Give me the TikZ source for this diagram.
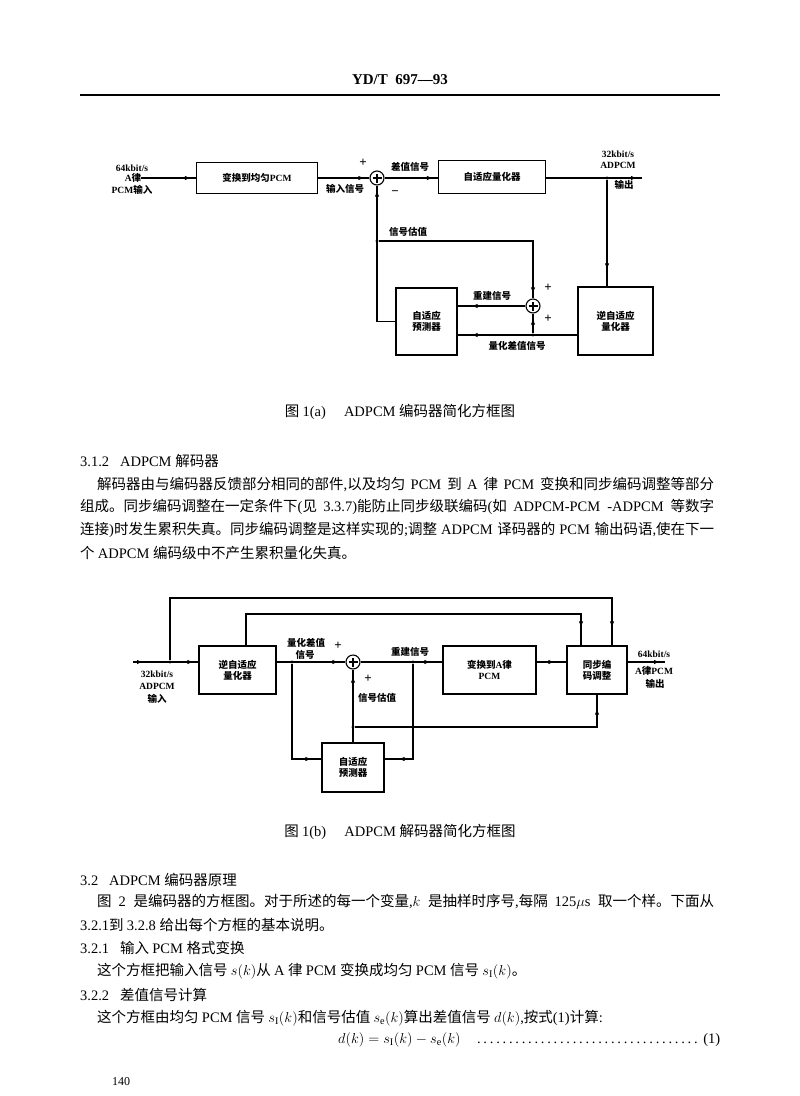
\documentclass[tikz,border=0pt]{standalone}
\usepackage{fontspec}
\setmainfont{Liberation Serif}
\newfontfamily\cjkfamily{Noto Sans CJK SC}
\usetikzlibrary{arrows.meta,decorations.markings}

% Chinese characters switch to the CJK font by themselves
\newXeTeXintercharclass\cjkclass
\newcount\cjkcnt
\def\setcjkrange#1#2{\cjkcnt=#1
  \loop\XeTeXcharclass\cjkcnt=\cjkclass
  \ifnum\cjkcnt<#2 \advance\cjkcnt by 1 \repeat}
\setcjkrange{"3000}{"303F}
\setcjkrange{"4E00}{"9FFF}
\setcjkrange{"FF00}{"FFEF}
\XeTeXinterchartoks 0 \cjkclass={\cjkfamily}
\XeTeXinterchartoks 4095 \cjkclass={\cjkfamily}
\XeTeXinterchartoks \cjkclass 0={\rmfamily}
\XeTeXinterchartoks 4095 0={\rmfamily}
\XeTeXlinebreaklocale "zh"
\XeTeXlinebreakskip=0pt plus 3pt

\newcommand\lblfont{\fontsize{9.5}{11}\selectfont\bfseries}
\newcommand\txtfont{\fontsize{14.5}{17}\selectfont}

\begin{document}
\XeTeXinterchartokenstate=1
\begin{tikzpicture}[x=1pt,y=-1pt,
	ln/.style={line width=1.1pt},
	fl/.style={ln,postaction={decorate,decoration={markings,
		mark=at position #1 with {\arrow{Latex[length=6pt,width=4.4pt]}}}}},
	fl/.default=-5pt,
	blk/.style={draw,line width=1.1pt,inner sep=0pt,align=center,font=\lblfont},
	sumc/.style={draw,line width=1.1pt,circle,inner sep=0pt,minimum size=14pt,
		path picture={\draw[line width=1.1pt] (path picture bounding box.center) +(-4.5pt,0pt) -- +(4.5pt,0pt)
			(path picture bounding box.center) +(0pt,-4.5pt) -- +(0pt,4.5pt);}},
	dot/.style={circle,fill,inner sep=0pt,minimum size=3.4pt},
	lbl/.style={font=\lblfont,inner sep=0pt},
	sgn/.style={font=\fontsize{13}{13}\selectfont\bfseries,inner sep=0pt},
	txt/.style={font=\txtfont,inner sep=0pt,anchor=west}]
	\useasboundingbox[fill=white] (0,0) rectangle (800,1096);

	% page head
	\node[font=\fontsize{15}{15}\selectfont\bfseries,inner sep=0pt] (head) at (400,80) {YD/T\ \ 697—93};
	\draw[line width=1.5pt] (80,95) -- (720,95);

	% figure 1(a): encoder
	\node[lbl] (ain1) at (132,168) {64kbit/s};
	\node[lbl] (ain) at (133,178) {A律};
	\node[lbl] (ain3) at (132,190) {PCM输入};
	\node[blk,minimum width=121pt,minimum height=31pt] (toU) at (257,178) {变换到均匀PCM};
	\node[sumc] (sa) at (377,178) {};
	\node[blk,minimum width=107pt,minimum height=33pt] (aq) at (492,177) {自适应量化器};
	\node[dot] (ja) at (607,178) {};
	\coordinate (aout) at (642,178);
	\node[blk,minimum width=75pt,minimum height=68pt] (iqa) at (615.5,321) {逆自适应\\量化器};
	\node[blk,minimum width=61pt,minimum height=67pt] (pa) at (426.5,321.5) {自适应\\预测器};
	\node[sumc] (sb) at (533,306) {};
	\node[dot] (jq) at (533,335) {};
	\node[dot] (je) at (377,241) {};
	\draw[fl] (ain) -- (toU);
	\draw[fl] (toU) -- (sa);
	\draw[fl] (sa) -- (aq.west|-sa);
	\draw[fl] (aq.east|-sa) -- (aout);
	\draw[fl=-17pt] (ja) -- (ja|-iqa.north);
	\draw[fl=-14pt] (iqa.west|-jq) -- (pa.east|-jq);
	\draw[fl] (jq) -- (sb);
	\draw[fl=-14pt] (sb) -- (pa.east|-sb);
	\draw[fl] (pa.west) -| (sa);
	\draw[fl] (je) -| (sb);
	\node[sgn] (pa1) at (363,163) {+};
	\node[sgn] (ma1) at (395,193) {−};
	\node[sgn] (pa2) at (548,288) {+};
	\node[sgn] (pa3) at (548,319) {+};
	\node[lbl] (la1) at (345,189) {输入信号};
	\node[lbl] (la2) at (410,167) {差值信号};
	\node[lbl] (la3) at (618,154) {32kbit/s};
	\node[lbl] (la4) at (618,165) {ADPCM};
	\node[lbl] (la5) at (624,185) {输出};
	\node[lbl] (la6) at (408,232) {信号估值};
	\node[lbl] (la7) at (492,296) {重建信号};
	\node[lbl] (la8) at (517,346) {量化差值信号};

	\node[txt,anchor=center] (capa) at (400,412) {图 1(a)\quad\ ADPCM 编码器简化方框图};
	\node[txt] (h312) at (80,461) {3.1.2\ \ \ ADPCM 解码器};
	\node[txt] (p1) at (97,484) {\makebox[617pt][s]{解码器由与编码器反馈部分相同的部件,以及均匀 PCM 到 A 律 PCM 变换和同步编码调整等部分}};
	\node[txt] (p2) at (80,507) {\makebox[634pt][s]{组成。同步编码调整在一定条件下(见 3.3.7)能防止同步级联编码(如 ADPCM-PCM -ADPCM 等数字}};
	\node[txt] (p3) at (80,530) {\makebox[634pt][s]{连接)时发生累积失真。同步编码调整是这样实现的;调整 ADPCM 译码器的 PCM 输出码语,使在下一}};
	\node[txt] (p4) at (80,553) {个 ADPCM 编码级中不产生累积量化失真。};

	% figure 1(b): decoder
	\coordinate (bin) at (133,662);
	\node[dot] (jb1) at (170,662) {};
	\node[blk,minimum width=77pt,minimum height=48pt] (iqb) at (237.5,670) {逆自适应\\量化器};
	\node[dot] (jb2) at (292,662) {};
	\node[sumc] (sbb) at (353,662) {};
	\node[dot] (jb3) at (413,662) {};
	\node[blk,minimum width=93pt,minimum height=48pt] (tA) at (489.5,670) {变换到A律\\PCM};
	\node[blk,minimum width=60pt,minimum height=48pt] (sync) at (597,670) {同步编\\码调整};
	\coordinate (bout) at (665,662);
	\node[blk,minimum width=62pt,minimum height=49pt] (pb) at (353,767.5) {自适应\\预测器};
	\node[dot] (jb4) at (353,727) {};
	\coordinate (t1) at (612,598);
	\coordinate (t2s) at (246,614);
	\coordinate (t2) at (581,614);
	\coordinate (pl) at (292,759);
	\draw[fl,fl=10pt] (bin) -- (iqb.west|-bin);
	\draw[fl=-18pt] (jb1) |- (t1) -- (t1|-sync.north);
	\draw[fl=-18pt] (t2s|-iqb.north) |- (t2) -- (t2|-sync.north);
	\draw[fl=-7pt] (iqb.east|-bin) -- (sbb);
	\draw[fl=-12pt] (sbb) -- (tA.west|-sbb);
	\draw[fl=-12pt] (tA.east|-sbb) -- (sync.west|-sbb);
	\draw[fl] (sync.east|-sbb) -- (bout);
	\draw[fl=-10pt] (jb2) |- (pb.west|-pl);
	\draw[fl=-14pt] (jb3) |- (pb.east|-pl);
	\draw[fl=-7pt] (pb) -- (sbb);
	\draw[fl=-14pt] (jb4) -| (sync.south);
	\node[lbl] (lb1) at (157,674) {32kbit/s};
	\node[lbl] (lb2) at (157,686) {ADPCM};
	\node[lbl] (lb3) at (157,699) {输入};
	\node[lbl] (lb4) at (306,643) {量化差值};
	\node[lbl] (lb5) at (305,655) {信号};
	\node[sgn] (pb1) at (338,646) {+};
	\node[lbl] (lb6) at (410,652) {重建信号};
	\node[sgn] (pb2) at (368,679) {+};
	\node[lbl] (lb7) at (377,698) {信号估值};
	\node[lbl] (lb8) at (654,654) {64kbit/s};
	\node[lbl] (lb9) at (654,671) {A律PCM};
	\node[lbl] (lb10) at (655,684) {输出};

	\node[txt,anchor=center] (capb) at (400,832) {图 1(b)\quad\ ADPCM 解码器简化方框图};
	\node[txt] (h32) at (80,880) {3.2\ \ \ ADPCM 编码器原理};
	\node[txt] (q1) at (97,902) {\makebox[617pt][s]{图 2 是编码器的方框图。对于所述的每一个变量,$k$ 是抽样时序号,每隔 125$\mu$s 取一个样。下面从}};
	\node[txt] (q2) at (80,925) {3.2.1到 3.2.8 给出每个方框的基本说明。};
	\node[txt] (h321) at (80,948) {3.2.1\ \ \ 输入 PCM 格式变换};
	\node[txt] (q3) at (97,971) {这个方框把输入信号 $s(k)$从 A 律 PCM 变换成均匀 PCM 信号 $s_{\mathrm{I}}(k)$。};
	\node[txt] (h322) at (80,995) {3.2.2\ \ \ 差值信号计算};
	\node[txt] (q4) at (97,1018) {这个方框由均匀 PCM 信号 $s_{\mathrm{I}}(k)$和信号估值 $s_{\mathrm{e}}(k)$算出差值信号 $d(k)$,按式(1)计算:};
	\node[txt] (eq1) at (338,1040) {\makebox[382pt][l]{$d(k)=s_{\mathrm{I}}(k)-s_{\mathrm{e}}(k)$\quad\dotfill\ (1)}};
	\node[txt,font=\fontsize{12}{12}\selectfont] (pg) at (112,1082) {140};
\end{tikzpicture}
\end{document}
